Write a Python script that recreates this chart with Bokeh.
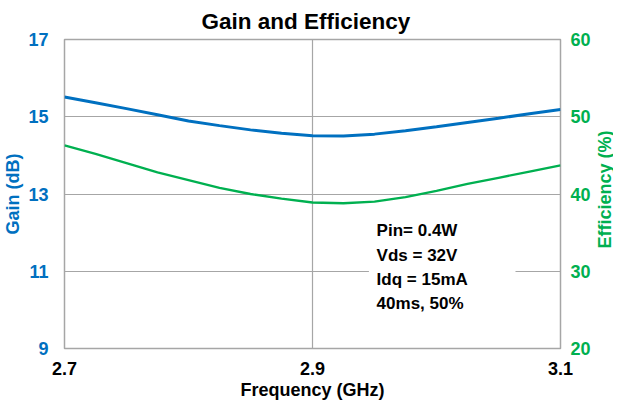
import math
from bokeh.plotting import figure
from bokeh.models import Range1d, LinearAxis, FixedTicker, BoxAnnotation, Label
from bokeh.embed import file_html
from bokeh.resources import INLINE

freq_ghz = [2.700, 2.725, 2.750, 2.775, 2.800, 2.825, 2.850, 2.875, 2.900,
            2.925, 2.950, 2.975, 3.000, 3.025, 3.050, 3.075, 3.100]
gain_db = [15.51, 15.36, 15.21, 15.05, 14.89, 14.77, 14.66, 14.57, 14.51,
           14.50, 14.55, 14.64, 14.74, 14.85, 14.96, 15.08, 15.19]
efficiency_pct = [46.3, 45.2, 44.0, 42.8, 41.8, 40.8, 40.0, 39.4, 38.9,
                  38.8, 39.0, 39.6, 40.4, 41.3, 42.1, 42.9, 43.7]

x_ticks = [2.7, 2.9, 3.1]
gain_ticks = [9, 11, 13, 15, 17]
eff_ticks = [20, 30, 40, 50, 60]
conditions = ["Pin= 0.4W", "Vds = 32V", "Idq = 15mA", "40ms, 50%"]

BLUE = "#0070C0"
GREEN = "#00B050"
GRID = "#A6A6A6"
FONT = "Liberation Sans"

W, H = 613, 402
ML, MR, MT, MB = 60, 52, 36, 48
FW = W - ML - MR
FH = H - MT - MB

p = figure(width=W, height=H, output_backend="svg", toolbar_location=None,
           x_range=Range1d(2.7, 3.1), y_range=Range1d(9, 17),
           min_border_left=ML, min_border_right=MR, min_border_top=MT, min_border_bottom=MB,
           title="Gain and Efficiency")
p.extra_y_ranges = {"eff": Range1d(20, 60)}

p.title.text_font = FONT
p.title.text_font_size = "22.5px"
p.title.text_font_style = "bold"
p.title.align = "left"
p.title.offset = 137
p.title.standoff = 12
p.title.text_color = "black"

p.outline_line_color = GRID
p.outline_line_width = 1.5
p.background_fill_color = "white"
p.border_fill_color = "white"

p.xgrid.ticker = FixedTicker(ticks=x_ticks)
p.ygrid.ticker = FixedTicker(ticks=gain_ticks)
p.xgrid.grid_line_color = GRID
p.ygrid.grid_line_color = GRID
p.xgrid.grid_line_width = 1.2
p.ygrid.grid_line_width = 1.2

def style_axis(ax, color, tick_standoff, label_standoff):
    ax.axis_line_color = None
    ax.major_tick_line_color = None
    ax.minor_tick_line_color = None
    ax.major_tick_out = 0
    ax.major_tick_in = 0
    ax.major_label_standoff = tick_standoff
    ax.major_label_text_font = FONT
    ax.major_label_text_font_size = "18px"
    ax.major_label_text_font_style = "bold"
    ax.major_label_text_color = color
    ax.axis_label_text_font = FONT
    ax.axis_label_text_font_size = "18px"
    ax.axis_label_text_font_style = "bold"
    ax.axis_label_text_color = color
    ax.axis_label_standoff = label_standoff

xa = p.xaxis[0]
xa.ticker = FixedTicker(ticks=x_ticks)
xa.axis_label = "Frequency (GHz)"
style_axis(xa, "black", 13, 2)

ya = p.yaxis[0]
ya.ticker = FixedTicker(ticks=gain_ticks)
ya.axis_label = "Gain (dB)"
style_axis(ya, BLUE, 16, 2)

ra = LinearAxis(y_range_name="eff", ticker=FixedTicker(ticks=eff_ticks))
style_axis(ra, GREEN, 10, 0)
p.add_layout(ra, "right")

rtitle = Label(x=11, y=FH / 2, x_units="screen", y_units="screen",
               text="Efficiency (%)", angle=math.pi / 2,
               text_font=FONT, text_font_size="18px", text_font_style="bold",
               text_color=GREEN, text_align="center", text_baseline="middle")
p.add_layout(rtitle, "right")

p.line(freq_ghz, efficiency_pct, y_range_name="eff", line_color=GREEN, line_width=2.3)
p.line(freq_ghz, gain_db, line_color=BLUE, line_width=3)

box = BoxAnnotation(left=2.9455, right=3.0637, bottom=9.98, top=12.37,
                    fill_color="white", fill_alpha=1.0, line_color=None)
p.add_layout(box)

lab = Label(x=2.9517, y=12.29, text="\n".join(conditions),
            text_font=FONT, text_font_size="17px", text_font_style="bold",
            text_color="black", text_baseline="top", text_align="left",
            text_line_height=1.28)
p.add_layout(lab)

open("out.html", "w").write(file_html(p, INLINE))
